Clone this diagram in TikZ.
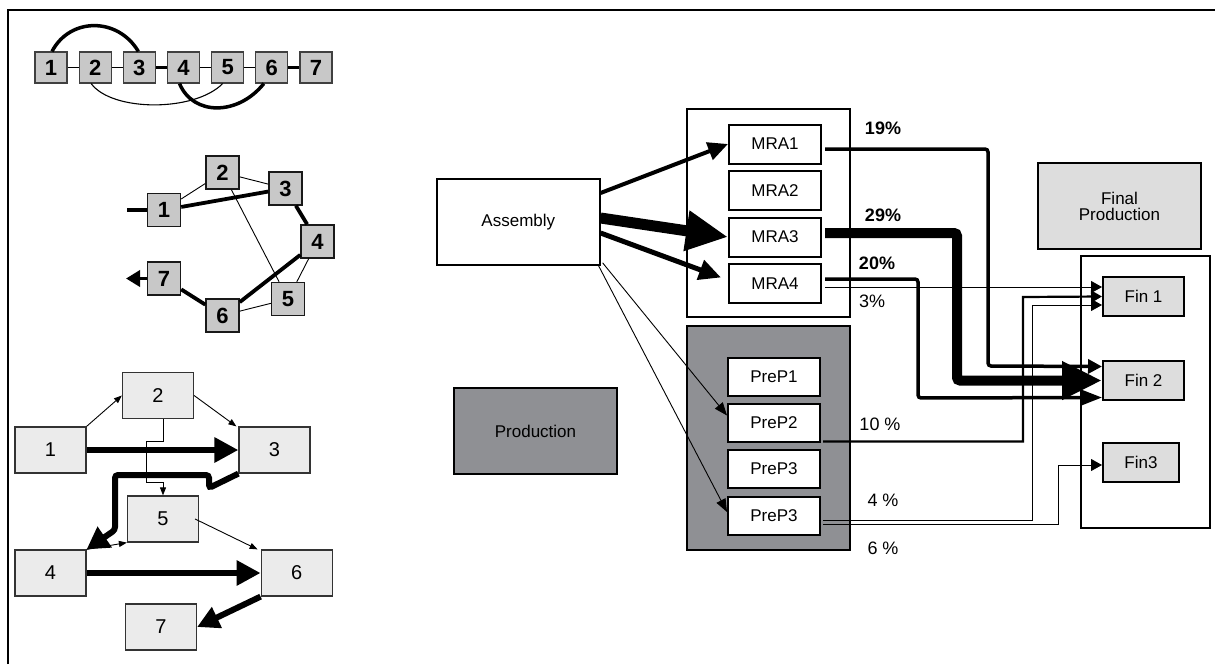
\documentclass[tikz,border=0pt]{standalone}
\usepackage{fontspec}
\setmainfont{Liberation Sans}
\usetikzlibrary{arrows.meta}
\definecolor{boxgray}{HTML}{C8C8C8}
\definecolor{pale}{HTML}{EBEBEB}
\definecolor{fingray}{HTML}{DDDDDD}
\definecolor{darkbox}{HTML}{8F9094}

\tikzset{
	lnthin/.style={line width=0.9pt},
	lnthick/.style={line width=3.8pt},
	tbox/.style={draw=black!75,fill=boxgray,line width=1.1pt,minimum width=32pt,minimum height=31pt,inner sep=0pt,font=\fontsize{22}{24}\selectfont\bfseries},
	mbox/.style={tbox,draw=black!90,line width=1.4pt,minimum width=33pt,minimum height=33pt},
	bbox/.style={draw=black!80,fill=pale,line width=1.2pt,minimum width=71pt,minimum height=46pt,inner sep=0pt,font=\fontsize{20}{22}\selectfont},
	bigbox/.style={draw,line width=1.6pt,minimum width=163pt,minimum height=86pt,inner sep=0pt,align=center,font=\fontsize{17}{19}\selectfont},
	smallbox/.style={draw,fill=white,line width=2pt,minimum width=92pt,minimum height=39pt,inner sep=0pt,font=\fontsize{17}{19}\selectfont},
	finbox/.style={smallbox,fill=fingray,minimum width=81pt},
	pct/.style={font=\fontsize{18}{20}\selectfont},
	flow/.style={rounded corners=3pt},
}

\begin{document}
\begin{tikzpicture}[x=1pt,y=-1pt]
	\useasboundingbox (0,0) rectangle (1215,664);
	% frame
	\draw[line width=1.8pt] (8,664) -- (8,10) -- (1215,10);

	% chain
	\foreach \n in {1,...,7}
	\node[tbox] (t\n) at ({51+(\n-1)*44.17},67.5) {\n};
	\draw[lnthin] (t1) -- (t2) (t2) -- (t3) (t4) -- (t5) (t5) -- (t6);
	\draw[lnthick] (t3) -- (t4) (t6) -- (t7);
	\draw[line width=3.5pt] ([xshift=1pt]t1.north) .. controls (70,17) and (118,17) .. ([xshift=-1pt]t3.north);
	\draw[line width=1.1pt] ([xshift=-4pt]t2.south) .. controls (112,112) and (195,112) .. ([xshift=-5pt]t5.south);
	\draw[line width=3.5pt] ([xshift=-4pt]t4.south) .. controls (193,116) and (238,116) .. ([xshift=-8pt]t6.south);

	% ring
	\foreach \n/\xx/\yy in {1/164/210, 2/222.5/172.5, 3/285.5/188.5, 4/317.5/241.5, 5/288/299, 6/222.5/315.5, 7/164/278.5}
	\node[mbox] (m\n) at (\xx,\yy) {\n};
	\coordinate (min) at (127,210);
	\coordinate (mout) at (126,278.5);
	\draw[lnthick] (min) -- (m1);
	\draw[lnthin] (m1) -- (m2) (m2) -- (m3) (m2) -- (m5) (m4) -- (m5) (m5) -- (m6);
	\draw[lnthick] (m1) -- (m3) (m3) -- (m4) (m4) -- (m6) (m6) -- (m7);
	\draw[lnthick,-{Triangle[length=14pt,width=16pt]}] (m7) -- (mout);

	% flow graph
	\foreach \n/\xx/\yy in {1/50.5/450, 2/158/395.5, 3/274.5/450, 4/50.5/573, 5/163/519, 6/296.7/573, 7/161/627}
	\node[bbox] (b\n) at (\xx,\yy) {\n};
	\draw[lnthin,-{Triangle[length=8pt,width=6pt]}] (b1.north east) -- (b2.west);
	\draw[lnthin,-{Triangle[length=8pt,width=6pt]}] (b2.east) -- ([xshift=-2pt]b3.north west);
	\draw[lnthin,-{Triangle[length=8pt,width=6pt]}] ([xshift=5pt]b2.south) -- ++(0,22) -| (146,482) -| (b5.north);
	\draw[lnthin,-{Triangle[length=8pt,width=6pt]}] (b4.north east) -- (b5.south west);
	\draw[lnthin,-{Triangle[length=8pt,width=6pt]}] ([xshift=-4pt]b5.east) -- ([xshift=-3pt]b6.north west);
	\draw[line width=6pt,-{Triangle[length=24pt,width=24pt]}] (b1.east) -- (b3.west);
	\draw[line width=6pt,-{Triangle[length=24pt,width=24pt]}] (b4.east) -- (b6.west);
	\draw[line width=6pt,-{Triangle[length=22pt,width=22pt]}] (b6.south west) -- (b7.east);
	\draw[line width=6pt,flow,-{Triangle[length=22pt,width=24pt]}] (b3.south west) -- (209,488) -- (209,475) -- (115,475) -- (115,530) -- (b4.north east);

	% plant
	\node[bigbox,fill=white] (asm) at (518.3,222) {Assembly};
	\node[bigbox,fill=darkbox] (prod) at (535.5,431) {Production};
	\node[bigbox,fill=fingray] (fprod) at (1119.5,206) {Final\\[-3pt]Production};
	\draw[line width=1.6pt] (687,109) rectangle (850,317);
	\draw[line width=2pt,fill=darkbox] (687,326) rectangle (850,550);
	\draw[line width=1.6pt] (1081,256) rectangle (1210,528);
	\foreach \n/\yy in {1/144, 2/190.5, 3/237, 4/283.5}
	\node[smallbox] (mra\n) at (775,\yy) {MRA\n};
	\foreach \n/\yy/\t in {1/377/PreP1, 2/422.5/PreP2, 3/469/PreP3, 4/516/PreP3}
	\node[smallbox,minimum height=38pt] (prep\n) at (774,\yy) {\t};
	\node[finbox] (fin1) at (1143.5,296.5) {Fin 1};
	\node[finbox] (fin2) at (1143.5,380.5) {Fin 2};
	\node[finbox,minimum width=76pt] (fin3) at (1141,462.5) {Fin3};

	% assembly to MRA and PreP
	\draw[line width=4pt,-{Triangle[length=20pt,width=18pt]}] ([yshift=29pt]asm.east) -- (mra1.west);
	\draw[line width=11pt,-{Triangle[length=42pt,width=38pt]}] ([yshift=4pt]asm.east) -- (mra3.west);
	\draw[line width=5pt,-{Triangle[length=22pt,width=20pt]}] ([yshift=-11pt]asm.east) -- ([xshift=-7pt,yshift=6pt]mra4.west);
	\draw[lnthin,-{Triangle[length=13pt,width=10pt]}] ([xshift=2pt,yshift=3pt]asm.south east) -- ([yshift=7pt]prep2.west);
	\draw[lnthin,-{Triangle[length=13pt,width=10pt]}] ([xshift=-2pt]asm.south east) -- ([yshift=4pt]prep4.west);

	% shares to final production
	\draw[line width=3.5pt,flow,-{Triangle[length=14pt,width=14pt]}] ([xshift=3pt,yshift=-5pt]mra1.east) -| (988,366) -- ([yshift=14pt]fin2.west);
	\draw[line width=10pt,flow,-{Triangle[length=40pt,width=36pt]}] ([xshift=3pt,yshift=4pt]mra3.east) -| (957,380.5) -- (fin2.west);
	\draw[line width=3.5pt,flow,-{Triangle[length=22pt,width=16pt]}] ([xshift=3pt,yshift=4.5pt]mra4.east) -| (918,398) -- ([yshift=-17pt]fin2.west);
	\draw[lnthin,-{Triangle[length=11pt,width=12pt]}] ([xshift=3pt,yshift=-3.5pt]mra4.east) -- ([yshift=9.5pt]fin1.west);
	\draw[line width=2.2pt,-{Triangle[length=11pt,width=12pt]}] ([xshift=2pt,yshift=-19pt]prep2.east) -| (1023,297) -- (fin1.west);
	\draw[lnthin,-{Triangle[length=11pt,width=12pt]}] ([xshift=2pt,yshift=-4pt]prep4.east) -| (1032,305) -- ([yshift=-8.5pt]fin1.west);
	\draw[lnthin,-{Triangle[length=11pt,width=12pt]}] ([xshift=2pt,yshift=-8pt]prep4.east) -| (1058,465) -- ([yshift=-2.5pt]fin3.west);

	% labels
	\node[pct,font=\fontsize{18}{20}\selectfont\bfseries] (p19) at (883,128) {19\%};
	\node[pct,font=\fontsize{18}{20}\selectfont\bfseries] (p29) at (883,215) {29\%};
	\node[pct,font=\fontsize{18}{20}\selectfont\bfseries] (p20) at (877,263) {20\%};
	\node[pct] (p3) at (872,301) {3\%};
	\node[pct] (p10) at (880,424) {10 \%};
	\node[pct] (p4) at (883,500) {4 \%};
	\node[pct] (p6) at (883,548) {6 \%};
\end{tikzpicture}
\end{document}
